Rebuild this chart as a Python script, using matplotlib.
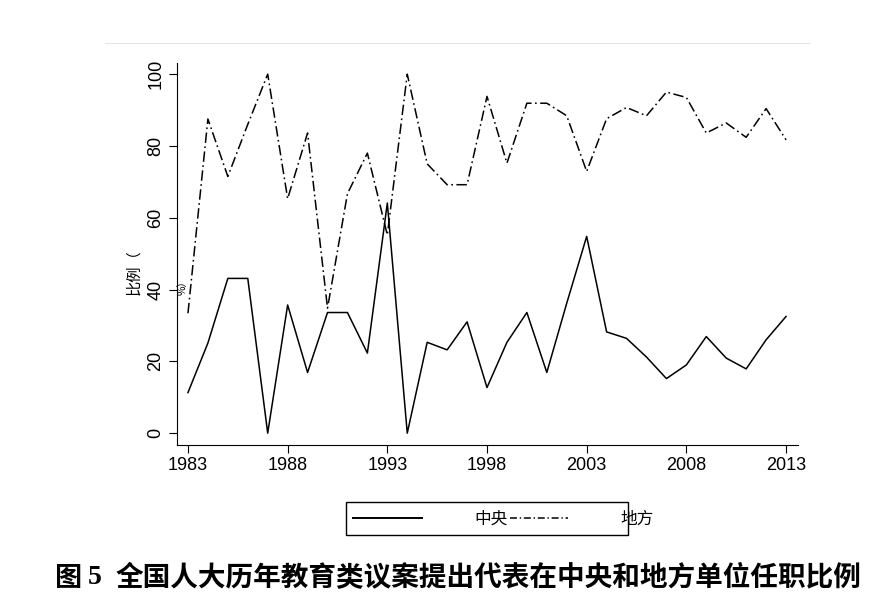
import numpy as np
import matplotlib
matplotlib.use("Agg")
import matplotlib.pyplot as plt
from matplotlib.patches import Rectangle
from matplotlib.lines import Line2D

plt.rcParams['font.family'] = ['Liberation Sans', 'Noto Sans CJK SC', 'DejaVu Sans']
plt.rcParams['lines.scale_dashes'] = False

# data
years = list(range(1983, 2014))
central = [11.3, 25.1, 43.1, 43.1, 0, 35.7, 16.9, 33.6, 33.6, 22.3,
           64.1, 0, 25.3, 23.2, 31.0, 12.7, 25.3, 33.6, 16.9, 36.2,
           54.8, 28.2, 26.4, 21.2, 15.2, 19.0, 26.9, 20.9, 17.9, 26.0, 32.5]
local = [33.4, 87.5, 71.5, 86.0, 100, 65.3, 83.6, 34.8, 66.7, 78.0,
         55.2, 100, 75.0, 69.2, 69.2, 93.8, 75.2, 91.9, 91.9, 88.4,
         72.9, 87.6, 90.7, 88.4, 95.0, 93.5, 83.6, 86.4, 82.4, 90.4, 81.7]
xticks = [1983, 1988, 1993, 1998, 2003, 2008, 2013]
yticks = [0, 20, 40, 60, 80, 100]
caption = "全国人大历年教育类议案提出代表在中央和地方单位任职比例"

W, H = 894, 603
fig = plt.figure(figsize=(W / 100, H / 100), dpi=100)
fig.patch.set_facecolor('white')

# axes placed in pixels: left 177, right 798, top 63, bottom 445
ax = fig.add_axes([177 / W, 1 - 445 / H, (798 - 177) / W, (445 - 63) / H])

dashdot = (0, (7.5, 2.5, 1.2, 2.5))
ax.plot(years, central, color='black', lw=1.1)
ax.plot(years, local, color='black', lw=1.1, linestyle=dashdot)

ax.set_xlim(1982.45, 2013.6)
ax.set_ylim(-3.3, 103.1)
ax.set_xticks(xticks)
ax.set_yticks(yticks)
ax.tick_params(direction='out', length=6, width=0.8, labelsize=13, pad=3)
for lab in ax.get_yticklabels():
    lab.set_rotation(90)
    lab.set_va('center')
for s in ['top', 'right']:
    ax.spines[s].set_visible(False)
for s in ['left', 'bottom']:
    ax.spines[s].set_linewidth(0.8)

# broken y-axis label as in the original
fig.text(134 / W, 1 - 272 / H, "比例（", rotation=90, ha='center', va='center',
         fontsize=11, family=['Noto Sans CJK SC'])
fig.text(183 / W, 1 - 285 / H, "%）", rotation=90, ha='center', va='center',
         fontsize=7.5, family=['Noto Sans CJK SC'])

# thin grey line at top
fig.add_artist(Line2D([105 / W, 810 / W], [1 - 43 / H, 1 - 43 / H],
                      color='#e6e6e6', lw=0.8))

# legend box
fig.add_artist(Rectangle((346 / W, 1 - 535 / H), (628 - 346) / W, 33 / H,
                         fill=False, ec='black', lw=1.0))
fig.add_artist(Line2D([353 / W, 422 / W], [1 - 518 / H, 1 - 518 / H],
                      color='black', lw=1.4))
fig.add_artist(Line2D([510 / W, 568 / W], [1 - 518 / H, 1 - 518 / H],
                      color='black', lw=1.1, linestyle=(0, (5, 2, 1, 2))))
fig.text(491 / W, 1 - 519 / H, "中央", ha='center', va='center', fontsize=12,
         family=['Noto Sans CJK SC'])
fig.text(637 / W, 1 - 519 / H, "地方", ha='center', va='center', fontsize=12,
         family=['Noto Sans CJK SC'])

# caption
fig.text(55 / W, 1 - 578 / H, "图", ha='left', va='center', fontsize=19.5,
         fontweight='bold', family=['Noto Sans CJK SC'])
fig.text(88 / W, 1 - 578 / H, "5", ha='left', va='center', fontsize=20,
         fontweight='bold', family=['Liberation Serif'])
fig.text(116 / W, 1 - 578 / H, caption, ha='left', va='center', fontsize=19.9,
         fontweight='bold', family=['Noto Sans CJK SC'])

fig.savefig("out.png", dpi=100, facecolor='white')
